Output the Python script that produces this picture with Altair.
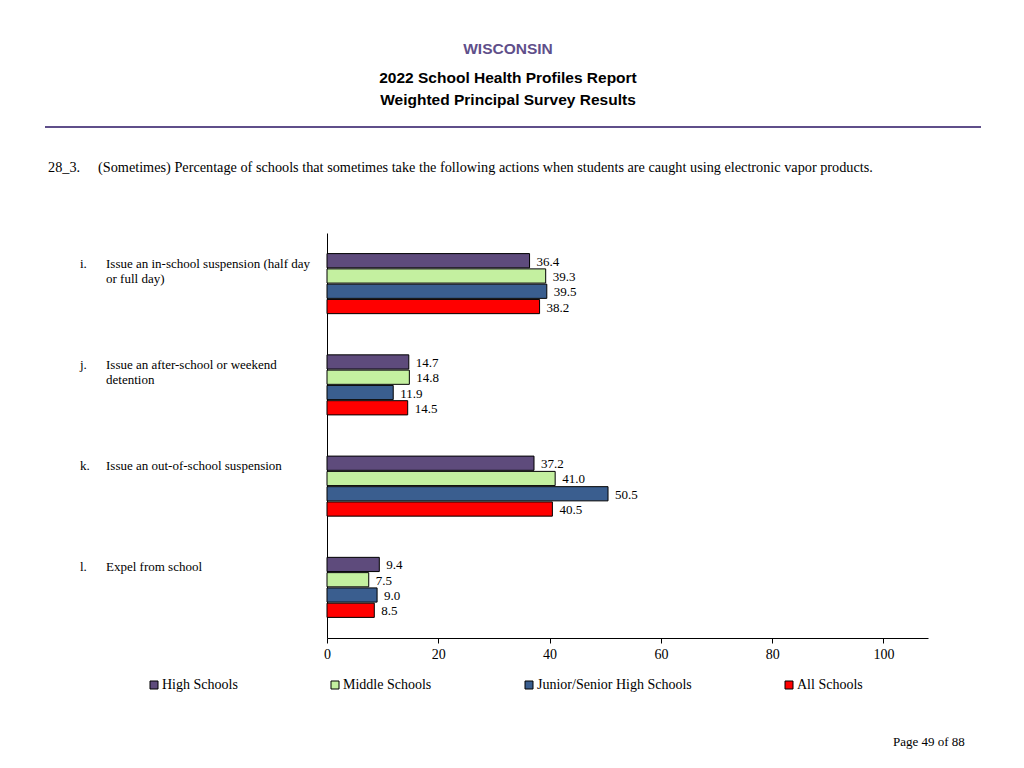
import altair as alt
import pandas as pd

categories = ["i", "j", "k", "l"]
letters = ["i.", "j.", "k.", "l."]
cat_labels = [
    "Issue an in-school suspension (half day\nor full day)",
    "Issue an after-school or weekend\ndetention",
    "Issue an out-of-school suspension",
    "Expel from school",
]
series = ["High Schools", "Middle Schools", "Junior/Senior High Schools", "All Schools"]
colors = ["#5E4B7C", "#C4F0A0", "#3A5E8F", "#FF0000"]
high = [36.4, 14.7, 37.2, 9.4]
middle = [39.3, 14.8, 41.0, 7.5]
junior = [39.5, 11.9, 50.5, 9.0]
all_schools = [38.2, 14.5, 40.5, 8.5]
x_ticks = [0, 20, 40, 60, 80, 100]

rows = []
for i, c in enumerate(categories):
    for s, vals in zip(series, [high, middle, junior, all_schools]):
        rows.append({"cat": c, "series": s, "value": vals[i]})
df = pd.DataFrame(rows)
lab_df = pd.DataFrame({"cat": categories, "letter": letters, "label": cat_labels})

SERIF = "Liberation Serif"
SANS = "Liberation Sans"

y_scale = alt.Scale(domain=categories, paddingInner=0.407, paddingOuter=0.2035)
yoff_scale = alt.Scale(domain=series, paddingInner=0.07, paddingOuter=0)
x_scale = alt.Scale(domain=[0, 108], nice=False, zero=True)

bars = alt.Chart(df).mark_bar(stroke="black", strokeWidth=1).encode(
    x=alt.X("value:Q", scale=x_scale,
            axis=alt.Axis(values=x_ticks, title=None, grid=False, domainColor="black",
                          tickColor="black", tickSize=5, labelFont=SERIF, labelFontSize=14,
                          labelColor="black", labelPadding=4, format="d",
                          labelFlush=False, labelOverlap=False)),
    y=alt.Y("cat:N", scale=y_scale,
            axis=alt.Axis(title=None, labels=False, ticks=False, domainColor="black", grid=False)),
    yOffset=alt.YOffset("series:N", scale=yoff_scale),
    fill=alt.Fill("series:N", scale=alt.Scale(domain=series, range=colors),
                  legend=alt.Legend(title=None, orient="none", direction="horizontal",
                                    legendX=-180, legendY=445, columnPadding=90,
                                    symbolType="square", symbolSize=64,
                                    symbolStrokeColor="black", symbolStrokeWidth=1,
                                    labelFont=SERIF, labelFontSize=14, labelColor="black",
                                    labelOffset=1)),
)

values = alt.Chart(df).mark_text(align="left", baseline="middle", dx=7, dy=1,
                                 font=SERIF, fontSize=13, color="black").encode(
    x=alt.X("value:Q", scale=x_scale),
    y=alt.Y("cat:N", scale=y_scale),
    yOffset=alt.YOffset("series:N", scale=yoff_scale),
    text=alt.Text("value:Q", format=".1f"),
)

letter_txt = alt.Chart(lab_df).mark_text(align="left", baseline="alphabetic", dy=-16,
                                         font=SERIF, fontSize=13, color="black").encode(
    x=alt.value(-247), y=alt.Y("cat:N", scale=y_scale), text="letter:N")
label_txt = alt.Chart(lab_df).mark_text(align="left", baseline="alphabetic", dy=-16,
                                        font=SERIF, fontSize=13, color="black",
                                        lineBreak="\n", lineHeight=15).encode(
    x=alt.value(-221), y=alt.Y("cat:N", scale=y_scale), text="label:N")

state = ["WISCONSIN"]
header_lines = ["2022 School Health Profiles Report", "Weighted Principal Survey Results"]
question_num = ["28_3."]
question = ["(Sometimes) Percentage of schools that sometimes take the following actions when students are caught using electronic vapor products."]
page = ["Page 49 of 88"]

def txt(text, x, y, **kw):
    return alt.Chart(pd.DataFrame({"t": [text]})).mark_text(**kw).encode(
        x=alt.value(x), y=alt.value(y), text="t:N")

t1 = txt(state[0], 181, -184, align="center", baseline="middle", font=SANS, fontSize=15.5,
         fontWeight="bold", color="#5F4F8A")
t2 = txt(header_lines[0], 181, -155, align="center", baseline="middle", font=SANS,
         fontSize=15.5, fontWeight="bold", color="black")
t3 = txt(header_lines[1], 181, -133, align="center", baseline="middle", font=SANS,
         fontSize=15.5, fontWeight="bold", color="black")
q1 = txt(question_num[0], -279, -65, align="left", baseline="middle", font=SERIF,
         fontSize=14.25, color="black")
q2 = txt(question[0], -229, -65, align="left", baseline="middle", font=SERIF,
         fontSize=14.25, color="black")
pg = txt(page[0], 566, 509, align="left", baseline="middle", font=SERIF,
         fontSize=13, color="black")

rule = alt.Chart(pd.DataFrame({"a": [0]})).mark_rule(color="#5F4F8A", strokeWidth=2).encode(
    x=alt.value(-282), x2=alt.value(654), y=alt.value(-106))

chart = alt.layer(bars, values, letter_txt, label_txt, t1, t2, t3, q1, q2, pg, rule).properties(
    width=601, height=405,
    background="white",
    autosize=alt.AutoSizeParams(type="none"),
    padding={"left": 319, "top": 225, "right": 88, "bottom": 120},
).configure_view(strokeWidth=0)

chart.save("out.html", embed_options={"renderer": "svg", "actions": False})
